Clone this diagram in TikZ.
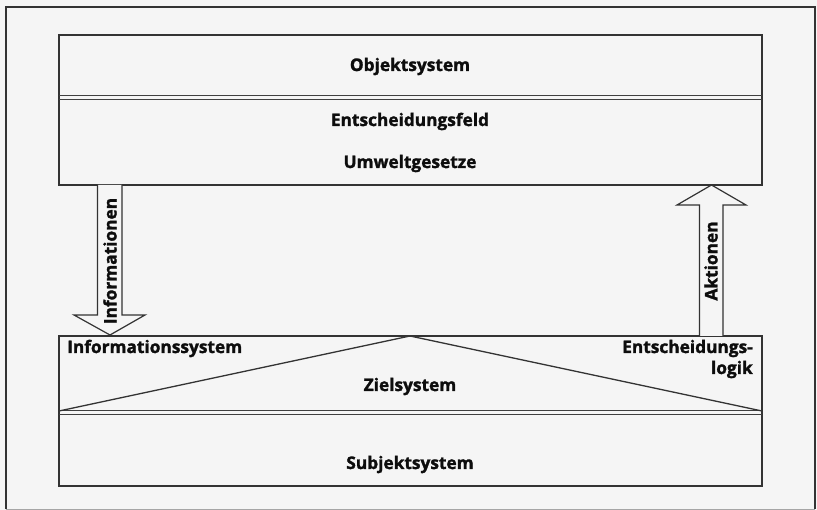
\documentclass[tikz,border=0pt]{standalone}
\usepackage{fontspec}
\setmainfont{Open Sans}[BoldFeatures={FakeBold=1.6}]
\begin{document}
\begin{tikzpicture}[x=1pt,y=-1pt,
  line/.style={draw=black!80, line width=1.3pt},
  thin/.style={draw=black!75, line width=1pt},
  lbl/.style={font=\fontsize{17.3}{20}\selectfont\bfseries, text=black!95, inner sep=0pt},
  blockarrow/.style={draw=black!80, line width=1.2pt, fill=white!96!black, line join=miter}]
  % page and outer frame
  \fill[white!96!black] (0,0) rectangle (817,510);
  \useasboundingbox (0,0) rectangle (817,510);
  \draw[black!80, line width=1.6pt] (6,509) -- (6,7) -- (815,7) -- (815,509);
  \draw[black!35, line width=0.8pt] (6,509) -- (815,509);

  % upper block: Objektsystem / Entscheidungsfeld
  \coordinate (upNW) at (59,35);
  \coordinate (upSE) at (762,185);
  \draw[line] (upNW) rectangle (upSE);
  \draw[thin] (59,96) -- (762,96);
  \draw[thin] (59,100) -- (762,100);
  \node[lbl, anchor=base] (obj) at (410,71) {Objektsystem};
  \node[lbl, anchor=base] (feld) at (410,126) {Entscheidungsfeld};
  \node[lbl, anchor=base] (umw) at (410,168) {Umweltgesetze};

  % lower block: Subjektsystem
  \coordinate (loNW) at (59,336);
  \coordinate (loSE) at (762,486);
  \draw[line] (loNW) rectangle (loSE);
  \draw[thin] (59,411) -- (762,411);
  \draw[thin] (59,415) -- (762,415);
  % triangle of the goal system
  \coordinate (apex) at (410,336);
  \coordinate (baseL) at (59,411);
  \coordinate (baseR) at (762,411);
  \draw[line] (baseL) -- (apex) -- (baseR);
  \node[lbl, anchor=base west] (info) at (67,353) {Informationssystem};
  \node[lbl, anchor=base] (ziel) at (410,391) {Zielsystem};
  \node[lbl, anchor=base east] (logik1) at (753,353) {Entscheidungs-};
  \node[lbl, anchor=base east] (logik2) at (753,374) {logik};
  \node[lbl, anchor=base] (subj) at (410,469) {Subjektsystem};

  % block arrow: Informationen (down)
  \draw[blockarrow] (97.5,185) -- (97.5,315) -- (74,315) -- (110,335)
      -- (145,315) -- (122,315) -- (122,185);
  \node[lbl, rotate=90] (infos) at (110,261) {Informationen};

  % block arrow: Aktionen (up)
  \draw[blockarrow] (699.5,336) -- (699.5,205) -- (677,205) -- (711.5,185)
      -- (746,205) -- (723,205) -- (723,336);
  \node[lbl, rotate=90] (akt) at (711,261) {Aktionen};
\end{tikzpicture}
\end{document}
